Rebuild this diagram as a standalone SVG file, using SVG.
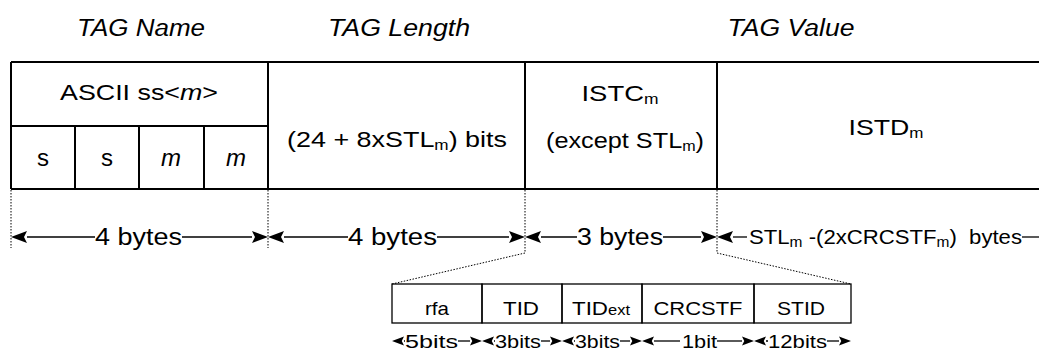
<svg xmlns="http://www.w3.org/2000/svg" width="1039" height="356" viewBox="0 0 1039 356">
<style>
  text { font-family: "Liberation Sans", Arial, sans-serif; fill: #000; }
  .hdr { font-size: 23px; font-style: italic; text-anchor: middle; }
  .lbl { font-size: 22px; text-anchor: middle; }
  .cell { font-size: 24px; text-anchor: middle; }
  .dim { font-size: 23px; text-anchor: middle; }
  .small { font-size: 19px; text-anchor: middle; }
  .bits { font-size: 19px; text-anchor: middle; }
  .sub { font-size: 14px; }
  .line { fill: none; stroke: #000; stroke-width: 2; }
  .thin { fill: none; stroke: #000; stroke-width: 1.3; }
  .dot { fill: none; stroke: #000; stroke-width: 1; stroke-dasharray: 1.5 1.5; }
</style>
<defs>
  <marker id="ah" viewBox="0 0 16 12" refX="0" refY="6" markerWidth="16" markerHeight="12" markerUnits="userSpaceOnUse" orient="auto-start-reverse">
    <path d="M16,6 L0,0 L3,6 L0,12 Z" fill="#000"/>
  </marker>
  <marker id="ahs" viewBox="0 0 16 12" refX="0" refY="6" markerWidth="12" markerHeight="10" markerUnits="userSpaceOnUse" orient="auto-start-reverse">
    <path d="M16,6 L0,0 L3,6 L0,12 Z" fill="#000"/>
  </marker>
</defs>
<rect width="1039" height="356" fill="#fff"/>

<!-- headers -->
<text class="hdr" x="141" y="36" textLength="128" lengthAdjust="spacingAndGlyphs">TAG Name</text>
<text class="hdr" x="399" y="36" textLength="142" lengthAdjust="spacingAndGlyphs">TAG Length</text>
<text class="hdr" x="791" y="36" textLength="127" lengthAdjust="spacingAndGlyphs">TAG Value</text>

<!-- main frame lines -->
<g id="frame">
  <path class="line" d="M11,62 H1039 M11,189 H1039 M11,62 V189"/>
</g>

<g id="tag-name">
  <path class="line" d="M11,126 H268 M75,126 V189 M139,126 V189 M204,126 V189"/>
  <text class="lbl" x="139" y="100" textLength="158" lengthAdjust="spacingAndGlyphs">ASCII ss&lt;<tspan font-style="italic">m</tspan>&gt;</text>
  <text class="cell" x="43" y="166">s</text>
  <text class="cell" x="107" y="166">s</text>
  <text class="cell" x="171" y="166" font-style="italic">m</text>
  <text class="cell" x="236" y="166" font-style="italic">m</text>
</g>

<g id="tag-length">
  <path class="line" d="M268,62 V189"/>
  <text class="lbl" x="397" y="147" textLength="220" lengthAdjust="spacingAndGlyphs">(24 + 8xSTL<tspan class="sub" dy="3">m</tspan><tspan dy="-3">) bits</tspan></text>
</g>

<g id="istc">
  <path class="line" d="M525,62 V189"/>
  <text class="lbl" x="620" y="101" textLength="77" lengthAdjust="spacingAndGlyphs">ISTC<tspan class="sub" dy="3">m</tspan></text>
  <text class="lbl" x="625" y="148" textLength="158" lengthAdjust="spacingAndGlyphs">(except STL<tspan class="sub" dy="3">m</tspan><tspan dy="-3">)</tspan></text>
</g>

<g id="istd">
  <path class="line" d="M717,62 V189"/>
  <text class="lbl" x="886" y="135" textLength="75" lengthAdjust="spacingAndGlyphs">ISTD<tspan class="sub" dy="3">m</tspan></text>
</g>

<!-- detail box -->
<g id="rfa">
  <rect class="thin" x="392" y="284" width="90" height="39"/>
  <text class="small" x="437" y="315" textLength="24" lengthAdjust="spacingAndGlyphs">rfa</text>
</g>
<g id="tid">
  <rect class="thin" x="482" y="284" width="80" height="39"/>
  <text class="small" x="521" y="315" textLength="36" lengthAdjust="spacingAndGlyphs">TID</text>
</g>
<g id="tidext">
  <rect class="thin" x="562" y="284" width="80" height="39"/>
  <text class="small" x="601" y="315" textLength="58" lengthAdjust="spacingAndGlyphs">TID<tspan font-size="14px">ext</tspan></text>
</g>
<g id="crcstf">
  <rect class="thin" x="642" y="284" width="112" height="39"/>
  <text class="small" x="698" y="315" textLength="89" lengthAdjust="spacingAndGlyphs">CRCSTF</text>
</g>
<g id="stid">
  <rect class="thin" x="754" y="284" width="97" height="39"/>
  <text class="small" x="801" y="315" textLength="48" lengthAdjust="spacingAndGlyphs">STID</text>
</g>

<g id="connectors">
  <!-- dotted extension lines -->
  <path class="dot" d="M11,190 V248 M268,190 V248 M525,190 V253 L392,284 M717,190 V253 L851,284"/>
  <!-- byte dimension arrows -->
  <path class="thin" d="M27,237 H95" marker-start="url(#ah)"/>
  <path class="thin" d="M182,237 H252" marker-end="url(#ah)"/>
  <path class="thin" d="M284,237 H348" marker-start="url(#ah)"/>
  <path class="thin" d="M437,237 H509" marker-end="url(#ah)"/>
  <path class="thin" d="M541,237 H577" marker-start="url(#ah)"/>
  <path class="thin" d="M663,237 H701" marker-end="url(#ah)"/>
  <path class="thin" d="M733,237 H747" marker-start="url(#ah)"/>
  <path class="thin" d="M1022,237 H1039"/>
  <text class="dim" x="138.5" y="245" textLength="87" lengthAdjust="spacingAndGlyphs">4 bytes</text>
  <text class="dim" x="392.5" y="245" textLength="89" lengthAdjust="spacingAndGlyphs">4 bytes</text>
  <text class="dim" x="620" y="245" textLength="86" lengthAdjust="spacingAndGlyphs">3 bytes</text>
  <text x="749" y="244" font-size="20px" textLength="273" lengthAdjust="spacingAndGlyphs">STL<tspan class="sub" dy="3">m</tspan><tspan dy="-3"> -(2xCRCSTF</tspan><tspan class="sub" dy="3">m</tspan><tspan dy="-3">)&#160; bytes</tspan></text>
  <!-- bit dimension arrows -->
  <path class="thin" d="M404,341 H405" marker-start="url(#ahs)"/>
  <path class="thin" d="M458,341 H470" marker-end="url(#ahs)"/>
  <path class="thin" d="M494,341 H495" marker-start="url(#ahs)"/>
  <path class="thin" d="M541,341 H550" marker-end="url(#ahs)"/>
  <path class="thin" d="M574,341 H575" marker-start="url(#ahs)"/>
  <path class="thin" d="M620,341 H630" marker-end="url(#ahs)"/>
  <path class="thin" d="M654,341 H680" marker-start="url(#ahs)"/>
  <path class="thin" d="M717,341 H742" marker-end="url(#ahs)"/>
  <path class="thin" d="M766,341 H768" marker-start="url(#ahs)"/>
  <path class="thin" d="M827,341 H839" marker-end="url(#ahs)"/>
  <text class="bits" x="431.5" y="348" textLength="53" lengthAdjust="spacingAndGlyphs">5bits</text>
  <text class="bits" x="518" y="348" textLength="46" lengthAdjust="spacingAndGlyphs">3bits</text>
  <text class="bits" x="597.5" y="348" textLength="45" lengthAdjust="spacingAndGlyphs">3bits</text>
  <text class="bits" x="699.5" y="348" textLength="35" lengthAdjust="spacingAndGlyphs">1bit</text>
  <text class="bits" x="797.5" y="348" textLength="59" lengthAdjust="spacingAndGlyphs">12bits</text>
</g>
</svg>
